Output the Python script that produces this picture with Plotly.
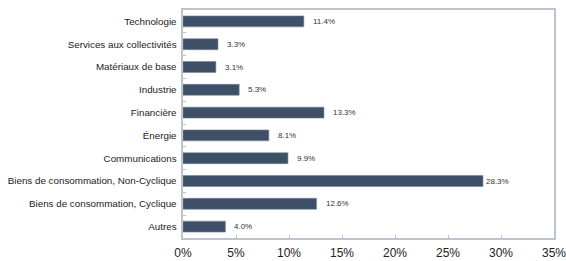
import plotly.graph_objects as go

categories = ["Technologie", "Services aux collectivités", "Matériaux de base", "Industrie",
              "Financière", "Énergie", "Communications",
              "Biens de consommation, Non-Cyclique", "Biens de consommation, Cyclique", "Autres"]
values = [11.4, 3.3, 3.1, 5.3, 13.3, 8.1, 9.9, 28.3, 12.6, 4.0]
labels = [f"{v:.1f}%" for v in values]
x_ticks = [0, 5, 10, 15, 20, 25, 30, 35]
x_tick_labels = [f"{t}%" for t in x_ticks]

fig = go.Figure()
fig.add_trace(go.Bar(
    y=categories, x=values, orientation="h",
    marker=dict(color="#3d5067", line=dict(color="#7a8898", width=0.6)),
    width=0.48,
    hoverinfo="skip",
))
max_v = max(values)
for c, v, l in zip(categories, values, labels):
    fig.add_annotation(x=v, y=c, text=l, showarrow=False, xanchor="left",
                       xshift=1 if v == max_v else 7,
                       font=dict(size=8, color="#333333", family="Liberation Sans"))

fig.update_layout(
    width=566, height=261,
    margin=dict(l=183, r=12, t=10, b=23, autoexpand=False),
    paper_bgcolor="white", plot_bgcolor="white",
    showlegend=False,
    font=dict(family="Liberation Sans", color="#222222"),
    xaxis=dict(range=[0, 35], tickvals=x_ticks, ticktext=x_tick_labels, automargin=False,
               showgrid=False, zeroline=False, showline=True, linecolor="#bcc5cf",
               linewidth=1.5, mirror=True, ticks="inside", ticklen=3, tickcolor="#b6c1cd",
               ticklabeloverflow="allow", ticklabelstandoff=3,
               tickfont=dict(size=12, color="#222222"), fixedrange=True),
    yaxis=dict(autorange="reversed", showgrid=False, zeroline=False, showline=True,
               automargin=False, mirror=True,
               linecolor="#bcc5cf", linewidth=1.5, ticks="inside", ticklen=3,
               tickcolor="#b6c1cd", tickson="boundaries",
               tickfont=dict(size=9.8, color="#222222"), ticksuffix=" "),
)
fig.write_html("out.html", config={"responsive": False, "displayModeBar": False},
               post_script="document.body.style.margin='0';document.body.style.overflow='hidden';")
